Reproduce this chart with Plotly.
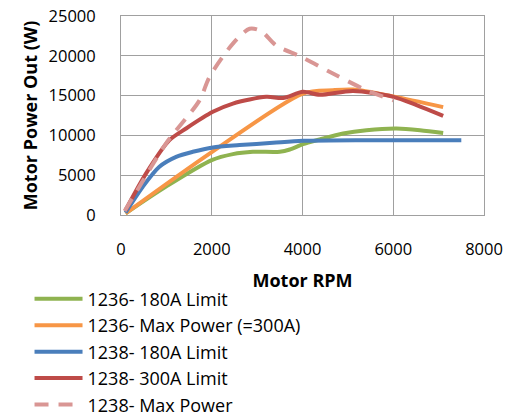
import plotly.graph_objects as go

# 1236- 180A Limit
rpm_g = [100, 1000, 2000, 2466, 2907, 3500, 3720, 4010, 4380, 4894, 5410, 6070, 6590, 7100]
pw_g = [200, 3600, 6900, 7650, 7940, 7950, 8230, 8900, 9490, 10240, 10660, 10870, 10660, 10300]
# 1236- Max Power (=300A)
rpm_o = [100, 2000, 4010, 4670, 5115, 6000, 7100]
pw_o = [200, 7900, 15260, 15675, 15760, 14900, 13550]
# 1238- 180A Limit
rpm_b = [100, 480, 846, 1215, 1582, 2024, 2613, 3350, 4010, 5410, 7500]
pw_b = [300, 3550, 6060, 7300, 7940, 8490, 8780, 9070, 9320, 9400, 9400]
# 1238- 300A Limit
rpm_r = [100, 550, 1067, 1435, 2024, 2466, 3200, 3570, 4010, 4380, 5115, 6000, 6514, 7100]
pw_r = [600, 5200, 9400, 10870, 12960, 14000, 14840, 14700, 15470, 15100, 15590, 14840, 13800, 12450]
# 1238- Max Power
rpm_p = [80, 405, 994, 1730, 1950, 2466, 2834, 3090, 3420, 3975, 4670, 5410, 6000]
pw_p = [500, 3550, 9000, 14400, 17350, 21530, 23400, 23100, 21300, 19860, 17770, 15675, 14400]

x_ticks = [0, 2000, 4000, 6000, 8000]
y_ticks = [0, 5000, 10000, 15000, 20000, 25000]

fig = go.Figure()
series = [
    ("1236- 180A Limit", rpm_g, pw_g, "#8FB350", "solid"),
    ("1236- Max Power (=300A)", rpm_o, pw_o, "#F79646", "solid"),
    ("1238- 180A Limit", rpm_b, pw_b, "#4A7EBB", "solid"),
    ("1238- 300A Limit", rpm_r, pw_r, "#BE4B48", "solid"),
    ("1238- Max Power", rpm_p, pw_p, "#D99694", "14px,10px"),
]
for name, xs, ys, col, dash in series:
    fig.add_trace(go.Scatter(
        x=xs, y=ys, name=name, mode="lines",
        line=dict(color=col, width=4, dash=dash, shape="spline", smoothing=0.8),
    ))

font = "Open Sans, Liberation Sans, sans-serif"
FS = 18
TFS = 16.5
fig.update_layout(
    width=509, height=418,
    margin=dict(l=121, r=25, t=16, b=203, autoexpand=False),
    paper_bgcolor="white", plot_bgcolor="white",
    font=dict(family=font, size=FS, color="#000"),
    showlegend=True,
    legend=dict(
        x=-0.252, y=-0.33, xanchor="left", yanchor="top",
        font=dict(size=FS, family=font), tracegroupgap=0, itemwidth=48,
        bgcolor="rgba(0,0,0,0)", maxheight=1000,
    ),
    xaxis=dict(
        range=[0, 8000], tickvals=x_ticks, ticktext=[str(v) for v in x_ticks],
        showgrid=True, gridcolor="#A0A0A0", gridwidth=1,
        showline=True, linecolor="#A0A0A0", linewidth=1, mirror=True,
        zeroline=False, ticks="", tickfont=dict(size=TFS), automargin=False,
        ticklabelstandoff=19, ticklabeloverflow="allow",
        title=dict(text="<b>Motor RPM</b>", font=dict(size=FS), standoff=15),
    ),
    yaxis=dict(
        range=[0, 25000], tickvals=y_ticks, ticktext=[str(v) for v in y_ticks],
        showgrid=True, gridcolor="#A0A0A0", gridwidth=1,
        showline=True, linecolor="#A0A0A0", linewidth=1, mirror=True,
        zeroline=False, ticks="", tickfont=dict(size=TFS), automargin=False,
        ticklabelstandoff=21, ticklabeloverflow="allow",
        title=dict(text="<b>Motor Power Out (W)</b>", font=dict(size=FS), standoff=6),
    ),
)
fig.write_html(
    "out.html",
    config={"displayModeBar": False},
    post_script="document.body.style.margin='0px';document.body.style.overflow='hidden';",
)
